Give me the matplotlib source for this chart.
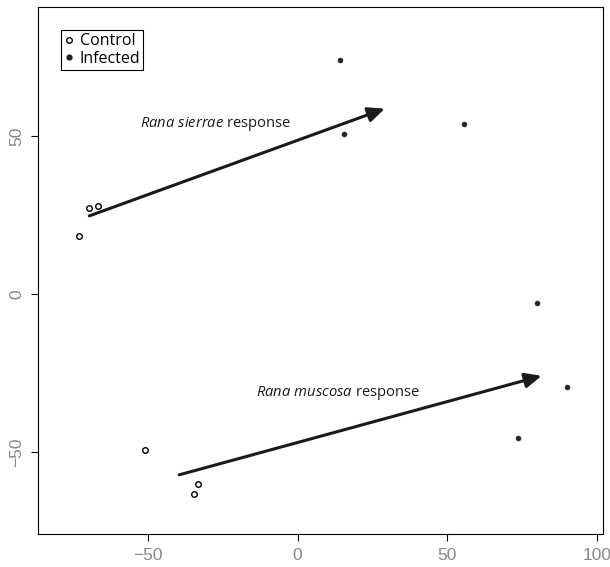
import matplotlib
matplotlib.use("Agg")
import matplotlib.pyplot as plt
from matplotlib.lines import Line2D

# Ordination scores
control_x = [-69.6, -66.8, -72.9, -50.9, -33.2, -34.6]
control_y = [27.4, 27.8, 18.3, -49.5, -60.3, -63.4]
infected_x = [14.1, 15.5, 55.6, 79.8, 90.1, 73.5]
infected_y = [74.3, 50.9, 54.0, -2.9, -29.4, -45.5]

# response arrows: (start, end)
sierrae_arrow = [(-69.6, 24.8), (29.1, 58.8)]
muscosa_arrow = [(-39.6, -57.3), (81.5, -25.9)]
sierrae_label = (-52.7, 53.8)
muscosa_label = (-14.0, -31.5)

xticks = [-50, 0, 50, 100]
yticks = [-50, 0, 50]

# italic species names in the same face as the rest of the label
plt.rcParams['mathtext.fontset'] = 'custom'
plt.rcParams['mathtext.rm'] = 'Open Sans'
plt.rcParams['mathtext.it'] = 'Open Sans:italic'

fig = plt.figure(figsize=(6.1, 5.67), dpi=100)
ax = fig.add_axes([0.0615, 0.059, 0.9265, 0.928])

ax.plot(control_x, control_y, 'o', ms=4, mfc='white', mec='black', mew=1.0, ls='none')
ax.plot(infected_x, infected_y, 'o', ms=3.5, mfc='#222222', mec='#222222', mew=0.5, ls='none')

for (x0, y0), (x1, y1) in [sierrae_arrow, muscosa_arrow]:
    ax.annotate('', xy=(x1, y1), xytext=(x0, y0),
                arrowprops=dict(arrowstyle='-|>,head_length=1.0,head_width=0.45',
                                lw=2.2, color='#1a1a1a', mutation_scale=10,
                                shrinkA=0, shrinkB=0))

lab_font = ['Open Sans', 'DejaVu Sans']
ax.text(sierrae_label[0], sierrae_label[1], r'$\it{Rana\ sierrae}$ response',
        ha='left', va='center', fontsize=10.6, family=lab_font, color='#1a1a1a')
ax.text(muscosa_label[0], muscosa_label[1], r'$\it{Rana\ muscosa}$ response',
        ha='left', va='center', fontsize=10.6, family=lab_font, color='#1a1a1a')

ax.set_xlim(-86.9, 101.9)
ax.set_ylim(-75.9, 90.9)
ax.set_xticks(xticks)
ax.set_yticks(yticks)
ax.tick_params(length=5, width=0.8, color='black', labelcolor='#888888', labelsize=12.5)
ax.tick_params(axis='x', pad=5.5)
ax.tick_params(axis='y', pad=4.5)
for lab in ax.get_xticklabels() + ax.get_yticklabels():
    lab.set_family('Liberation Sans')
for lab in ax.get_yticklabels():
    lab.set_rotation(90)
    lab.set_va('center')
for s in ax.spines.values():
    s.set_linewidth(0.8)

handles = [Line2D([], [], marker='o', ls='none', ms=4, mfc='white', mec='black', mew=1.0),
           Line2D([], [], marker='o', ls='none', ms=3.5, mfc='#222222', mec='#222222')]
leg = ax.legend(handles, ['Control', 'Infected'], loc='upper left',
                bbox_to_anchor=(0.042, 0.957), frameon=True, fancybox=False,
                edgecolor='black', framealpha=1, borderpad=0.2, labelspacing=0.1,
                handlelength=0.6, handletextpad=0.35, borderaxespad=0,
                prop={'family': lab_font, 'size': 11.5})
leg.get_frame().set_linewidth(0.8)

fig.savefig('out.png', dpi=100)
